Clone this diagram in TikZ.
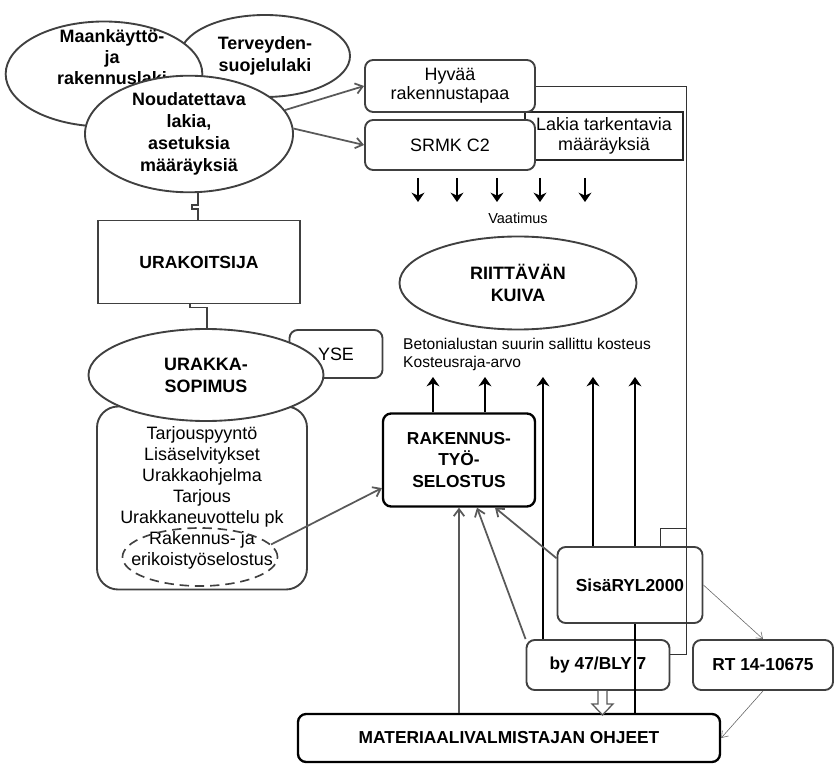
\documentclass[tikz,border=0pt]{standalone}
\usepackage{fontspec}
\setmainfont{Liberation Sans}
\usepackage{tikz}
\usetikzlibrary{shapes.geometric, arrows.meta, positioning}

\begin{document}
\begin{tikzpicture}[
    x=0.03cm, y=-0.03cm,
    law/.style = {ellipse, draw=black!75, line width=1.6pt, fill=white, inner sep=0pt, align=center, font=\bfseries\fontsize{15.3}{18.7}\selectfont},
    box/.style = {rectangle, draw=black!75, line width=1.6pt, rounded corners=7pt, fill=white, align=center, font=\fontsize{15.3}{16.5}\selectfont},
    boldbox/.style = {box, font=\bfseries\fontsize{14.8}{18.7}\selectfont},
    link/.style = {draw=black!65, line width=1.5pt, -{Straight Barb[length=6pt, width=9pt]}},
    thinlink/.style = {draw=black!60, line width=0.5pt, -{Straight Barb[length=5pt, width=7pt]}},
    uparrow/.style = {line width=2.1pt, -{Stealth[length=8pt, width=11pt]}},
    elbow/.style = {draw=black!75, line width=1.6pt},
    frameline/.style = {draw=black!80, line width=0.7pt}
]
    \useasboundingbox (0,0) rectangle (834,764);

    % Laws
    \node[law, minimum width=5.1cm, minimum height=2.46cm] (ter) at (265,56) {Terveyden-\\suojelulaki};
    \node[law, minimum width=5.9cm, minimum height=3.15cm] (maa) at (104,74) {};
    \node[align=center, font=\bfseries\fontsize{15.3}{18}\selectfont] (maatxt) at (112,57) {Maankäyttö-\\ja\\rakennuslaki};
    \node[law, minimum width=6.24cm, minimum height=3.15cm] (nou) at (189,134) {Noudatettava\\lakia,\\asetuksia\\määräyksiä};

    % Requirements
    \node[box, draw=black!85, rounded corners=0pt, minimum width=4.74cm, minimum height=1.44cm] (lak) at (604,136) {Lakia tarkentavia\\määräyksiä};
    \node[box, minimum width=5.1cm, minimum height=1.56cm] (hyv) at (450,86) {Hyvää\\rakennustapaa};
    \node[box, minimum width=5.1cm, minimum height=1.5cm] (srmk) at (450,145) {SRMK C2};

    \foreach \x in {418,457,497,540,585}
        \draw[uparrow] (\x,178) -- ++(0,24);
    \node[font=\fontsize{12.4}{14}\selectfont] (vaa) at (518,218) {Vaatimus};

    \node[law, minimum width=7.11cm, minimum height=2.79cm] (kui) at (518,283) {RIITTÄVÄN\\KUIVA};
    \node[anchor=north west, align=left, inner sep=0pt, font=\fontsize{13.3}{15.3}\selectfont] (kos) at (403,338) {Betonialustan suurin sallittu kosteus\\Kosteusraja-arvo};

    % Contractor side
    \node[box, rounded corners=0pt, minimum width=6.06cm, minimum height=2.49cm, font=\bfseries\fontsize{15}{18}\selectfont] (urk) at (199,262) {URAKOITSIJA};
    \node[box, minimum width=2.79cm, minimum height=1.44cm] (yse) at (336,354) {YSE};
    \node[box, rounded corners=18pt, minimum width=6.3cm, minimum height=5.49cm, font=\fontsize{15.3}{17.9}\selectfont] (tar) at (202,498) {Tarjouspyyntö\\Lisäselvitykset\\Urakkaohjelma\\Tarjous\\Urakkaneuvottelu pk\\Rakennus- ja\\erikoistyöselostus};
    \node[law, minimum width=7.05cm, minimum height=2.76cm] (ura) at (206,375) {URAKKA-\\SOPIMUS};
    \node[ellipse, draw=black!75, line width=1.4pt, dash pattern=on 8pt off 5pt, minimum width=4.65cm, minimum height=1.74cm] (rje) at (200,557) {};

    % Specification side
    \node[boldbox, draw=black, line width=2pt, minimum width=4.56cm, minimum height=2.79cm] (rak) at (459,460) {RAKENNUS-\\TYÖ-\\SELOSTUS};
    \node[boldbox, draw=black, line width=2pt, minimum width=12.66cm, minimum height=1.44cm] (mat) at (509,738) {MATERIAALIVALMISTAJAN OHJEET};
    \node[boldbox, minimum width=4.29cm, minimum height=1.5cm] (by47) at (598,665) {by 47/BLY 7};
    \node[boldbox, minimum width=4.2cm, minimum height=1.5cm] (rt) at (763,665) {RT 14-10675};

    % Arrows up to the moisture limits
    \coordinate (t1) at (433,377);
    \coordinate (t2) at (485,377);
    \coordinate (t3) at (543,377);
    \coordinate (t4) at (593,377);
    \coordinate (t5) at (635,377);
    \draw[uparrow] (rak.north -| t1) -- (t1);
    \draw[uparrow] (rak.north -| t2) -- (t2);
    \draw[uparrow] (by47.north -| t3) -- (t3);
    \draw[uparrow] (mat.north -| t5) -- (t5);

    \node[boldbox, minimum width=4.35cm, minimum height=2.28cm] (sisa) at (630,585) {SisäRYL2000};
    \draw[uparrow] (sisa.north -| t4) -- (t4);

    % Thin frame
    \draw[frameline] (hyv.east) -- ++(150,0) coordinate (fr) -- (fr |- by47.8) -- (by47.8);
    \draw[frameline] (sisa.north) ++(30,0) -- ++(0,-18) coordinate (sk) -- (sk -| fr);

    % Connectors
    \draw[link] (nou.14) -- (hyv.west);
    \draw[link] (nou.3) -- (srmk.west);
    \draw[link] (rje.10) -- (rak.200);
    \draw[link] (rak.south |- mat.north) -- (rak.south);
    \draw[link] (by47.north west) -- ([xshift=0.54cm]rak.south);
    \draw[link] (sisa.160) -- ([xshift=1.08cm]rak.south);
    \draw[thinlink] (sisa.east) -- (rt.north);
    \draw[thinlink] (rt.south) -- (mat.east);
    \draw[draw=black!65, line width=1.1pt, fill=white] (by47.south) -- ++(0,13) -- ++(-6,0) -- ++(10.5,11) -- ++(10.5,-11) -- ++(-6,0) -- ++(0,-13);

    \draw[elbow] (nou.south) ++(9,0) -- ++(0,12) -- ++(-6,0) -- ++(0,4) -- ++(6,0) coordinate (z1) -- (z1 |- urk.north);
    \draw[elbow] (urk.south) ++(-9,0) -- ++(0,3) -- ++(17,0) coordinate (z2) -- (z2 |- ura.north);
\end{tikzpicture}
\end{document}
